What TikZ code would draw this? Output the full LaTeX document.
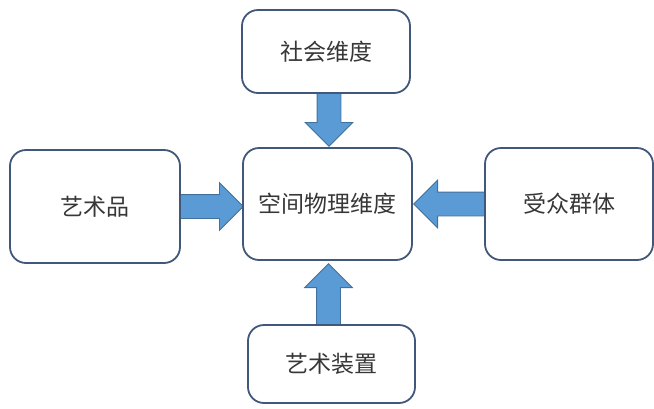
\documentclass[tikz,border=0pt]{standalone}
\usepackage{fontspec}
\newfontfamily\cjk{Noto Sans CJK SC}
\usetikzlibrary{shapes.arrows,backgrounds}

\definecolor{boxline}{RGB}{65,88,122}
\definecolor{arrfill}{RGB}{91,155,213}
\definecolor{arrline}{RGB}{65,113,156}
\definecolor{txt}{RGB}{55,55,55}

\tikzset{
  dimbox/.style={draw=boxline, line width=1.8pt, rounded corners=16pt, fill=white,
    text=txt, font=\cjk\fontsize{23}{27}\selectfont},
  blockarr/.style={single arrow, draw=arrline, fill=arrfill, line width=0.8pt,
    inner sep=11.5pt, minimum width=47pt, single arrow head extend=12pt,
    single arrow tip angle=90, anchor=tail}
}

\begin{document}
\begin{tikzpicture}[x=1pt, y=-1pt]
\useasboundingbox (0,0) rectangle (654,408);

\node[dimbox, minimum width=168pt, minimum height=83pt] (soc) at (326,51.5) {社会维度};
\node[dimbox, minimum width=169pt, minimum height=112pt] (space) at (327.5,204) {空间物理维度};
\node[dimbox, minimum width=170pt, minimum height=113pt] (art) at (95,206.5) {艺术品};
\node[dimbox, minimum width=168pt, minimum height=112pt] (aud) at (569,204) {受众群体};
\node[dimbox, minimum width=167pt, minimum height=78pt] (inst) at (331.5,364) {艺术装置};

% block arrows into the centre, tails tucked under the outer boxes
\begin{pgfonlayer}{background}
\node[blockarr, minimum height=54pt, shape border rotate=270] (a1) at ([xshift=3pt,yshift=2pt]soc.south) {};
\node[blockarr, minimum height=64pt, shape border rotate=0] (a2) at ([xshift=-2pt]art.east) {};
\node[blockarr, minimum height=72pt, shape border rotate=180] (a3) at ([xshift=2pt]aud.west) {};
\node[blockarr, minimum height=62pt, shape border rotate=90] (a4) at ([xshift=-3pt,yshift=-2pt]inst.north) {};
\end{pgfonlayer}
\end{tikzpicture}
\end{document}
